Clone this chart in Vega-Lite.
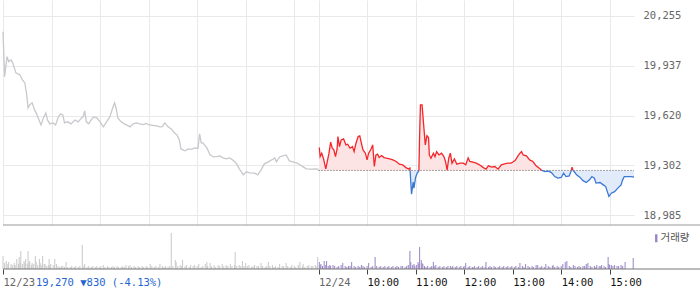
{
  "$schema": "https://vega.github.io/schema/vega-lite/v6.json",
  "padding": 0,
  "background": "white",
  "spacing": 3,
  "config": {
    "view": {"stroke": null},
    "axis": {"labelFont": "DejaVu Sans Mono", "labelFontSize": 10.5}
  },
  "resolve": {
    "scale": {"color": "independent", "stroke": "independent", "fill": "independent"},
    "legend": {"color": "independent"}
  },
  "datasets": {
    "price": [
      {"m":0,"p":20155,"s":0,"d":"prev"},{"m":2,"p":19868,"s":0,"d":"prev"},{"m":5,"p":19996,"s":0,"d":"prev"},{"m":7,"p":19964,"s":0,"d":"prev"},
      {"m":10,"p":19975,"s":0,"d":"prev"},{"m":12,"p":19955,"s":0,"d":"prev"},{"m":14,"p":19924,"s":0,"d":"prev"},{"m":16,"p":19892,"s":0,"d":"prev"},
      {"m":21,"p":19879,"s":0,"d":"prev"},{"m":24,"p":19847,"s":0,"d":"prev"},{"m":27,"p":19828,"s":0,"d":"prev"},{"m":29,"p":19764,"s":0,"d":"prev"},
      {"m":31,"p":19669,"s":0,"d":"prev"},{"m":33,"p":19688,"s":0,"d":"prev"},{"m":36,"p":19701,"s":0,"d":"prev"},{"m":39,"p":19656,"s":0,"d":"prev"},
      {"m":41,"p":19637,"s":0,"d":"prev"},{"m":43,"p":19611,"s":0,"d":"prev"},{"m":47,"p":19560,"s":0,"d":"prev"},{"m":50,"p":19605,"s":0,"d":"prev"},
      {"m":53,"p":19637,"s":0,"d":"prev"},{"m":55,"p":19592,"s":0,"d":"prev"},{"m":58,"p":19567,"s":0,"d":"prev"},{"m":62,"p":19573,"s":0,"d":"prev"},
      {"m":65,"p":19560,"s":0,"d":"prev"},{"m":68,"p":19605,"s":0,"d":"prev"},{"m":71,"p":19631,"s":0,"d":"prev"},{"m":74,"p":19624,"s":0,"d":"prev"},
      {"m":76,"p":19573,"s":0,"d":"prev"},{"m":80,"p":19580,"s":0,"d":"prev"},{"m":84,"p":19567,"s":0,"d":"prev"},{"m":89,"p":19592,"s":0,"d":"prev"},
      {"m":93,"p":19580,"s":0,"d":"prev"},{"m":97,"p":19605,"s":0,"d":"prev"},{"m":99,"p":19611,"s":0,"d":"prev"},{"m":101,"p":19650,"s":0,"d":"prev"},
      {"m":103,"p":19580,"s":0,"d":"prev"},{"m":106,"p":19567,"s":0,"d":"prev"},{"m":109,"p":19592,"s":0,"d":"prev"},{"m":112,"p":19611,"s":0,"d":"prev"},
      {"m":116,"p":19605,"s":0,"d":"prev"},{"m":120,"p":19580,"s":0,"d":"prev"},{"m":124,"p":19548,"s":0,"d":"prev"},{"m":128,"p":19580,"s":0,"d":"prev"},
      {"m":132,"p":19611,"s":0,"d":"prev"},{"m":136,"p":19675,"s":0,"d":"prev"},{"m":138,"p":19701,"s":0,"d":"prev"},{"m":140,"p":19662,"s":0,"d":"prev"},
      {"m":142,"p":19605,"s":0,"d":"prev"},{"m":146,"p":19580,"s":0,"d":"prev"},{"m":150,"p":19567,"s":0,"d":"prev"},{"m":155,"p":19554,"s":0,"d":"prev"},
      {"m":157,"p":19548,"s":0,"d":"prev"},{"m":161,"p":19567,"s":0,"d":"prev"},{"m":165,"p":19573,"s":0,"d":"prev"},{"m":169,"p":19567,"s":0,"d":"prev"},
      {"m":173,"p":19562,"s":0,"d":"prev"},{"m":177,"p":19570,"s":0,"d":"prev"},{"m":181,"p":19560,"s":0,"d":"prev"},{"m":185,"p":19558,"s":0,"d":"prev"},
      {"m":190,"p":19554,"s":0,"d":"prev"},{"m":194,"p":19548,"s":0,"d":"prev"},{"m":197,"p":19550,"s":0,"d":"prev"},{"m":200,"p":19573,"s":0,"d":"prev"},
      {"m":204,"p":19548,"s":0,"d":"prev"},{"m":208,"p":19535,"s":0,"d":"prev"},{"m":212,"p":19509,"s":0,"d":"prev"},{"m":215,"p":19497,"s":0,"d":"prev"},
      {"m":218,"p":19465,"s":0,"d":"prev"},{"m":220,"p":19407,"s":0,"d":"prev"},{"m":225,"p":19395,"s":0,"d":"prev"},{"m":229,"p":19407,"s":0,"d":"prev"},
      {"m":233,"p":19404,"s":0,"d":"prev"},{"m":237,"p":19414,"s":0,"d":"prev"},{"m":241,"p":19410,"s":0,"d":"prev"},{"m":243,"p":19503,"s":0,"d":"prev"},
      {"m":245,"p":19446,"s":0,"d":"prev"},{"m":247,"p":19446,"s":0,"d":"prev"},{"m":249,"p":19433,"s":0,"d":"prev"},{"m":252,"p":19414,"s":0,"d":"prev"},
      {"m":256,"p":19369,"s":0,"d":"prev"},{"m":260,"p":19356,"s":0,"d":"prev"},{"m":264,"p":19358,"s":0,"d":"prev"},{"m":268,"p":19363,"s":0,"d":"prev"},
      {"m":272,"p":19350,"s":0,"d":"prev"},{"m":276,"p":19344,"s":0,"d":"prev"},{"m":280,"p":19350,"s":0,"d":"prev"},{"m":284,"p":19337,"s":0,"d":"prev"},
      {"m":288,"p":19318,"s":0,"d":"prev"},{"m":293,"p":19274,"s":0,"d":"prev"},{"m":297,"p":19242,"s":0,"d":"prev"},{"m":301,"p":19261,"s":0,"d":"prev"},
      {"m":305,"p":19255,"s":0,"d":"prev"},{"m":311,"p":19253,"s":0,"d":"prev"},{"m":315,"p":19242,"s":0,"d":"prev"},{"m":319,"p":19274,"s":0,"d":"prev"},
      {"m":323,"p":19312,"s":0,"d":"prev"},{"m":328,"p":19325,"s":0,"d":"prev"},{"m":332,"p":19337,"s":0,"d":"prev"},{"m":336,"p":19350,"s":0,"d":"prev"},
      {"m":338,"p":19325,"s":0,"d":"prev"},{"m":342,"p":19356,"s":0,"d":"prev"},{"m":346,"p":19363,"s":0,"d":"prev"},{"m":350,"p":19369,"s":0,"d":"prev"},
      {"m":354,"p":19331,"s":0,"d":"prev"},{"m":358,"p":19325,"s":0,"d":"prev"},{"m":363,"p":19318,"s":0,"d":"prev"},{"m":367,"p":19306,"s":0,"d":"prev"},
      {"m":371,"p":19293,"s":0,"d":"prev"},{"m":375,"p":19280,"s":0,"d":"prev"},{"m":381,"p":19278,"s":0,"d":"prev"},{"m":387,"p":19280,"s":0,"d":"prev"},
      {"m":390,"p":19277,"s":0,"d":"prev"},

      {"m":391,"p":19416,"s":1,"d":"up"},{"m":392,"p":19358,"s":1,"d":"up"},{"m":394,"p":19380,"s":1,"d":"up"},{"m":396,"p":19348,"s":1,"d":"up"},
      {"m":399,"p":19280,"s":1,"d":"up"},{"m":400,"p":19306,"s":1,"d":"up"},{"m":403,"p":19380,"s":1,"d":"up"},{"m":405,"p":19450,"s":1,"d":"up"},
      {"m":407,"p":19412,"s":1,"d":"up"},{"m":409,"p":19401,"s":1,"d":"up"},{"m":411,"p":19358,"s":1,"d":"up"},{"m":413,"p":19407,"s":1,"d":"up"},
      {"m":414,"p":19486,"s":1,"d":"up"},{"m":416,"p":19422,"s":1,"d":"up"},{"m":418,"p":19465,"s":1,"d":"up"},{"m":421,"p":19471,"s":1,"d":"up"},
      {"m":424,"p":19433,"s":1,"d":"up"},{"m":426,"p":19437,"s":1,"d":"up"},{"m":429,"p":19412,"s":1,"d":"up"},{"m":432,"p":19422,"s":1,"d":"up"},
      {"m":434,"p":19390,"s":1,"d":"up"},{"m":436,"p":19437,"s":1,"d":"up"},{"m":439,"p":19486,"s":1,"d":"up"},{"m":441,"p":19490,"s":1,"d":"up"},
      {"m":443,"p":19444,"s":1,"d":"up"},{"m":445,"p":19401,"s":1,"d":"up"},{"m":448,"p":19380,"s":1,"d":"up"},{"m":450,"p":19337,"s":1,"d":"up"},
      {"m":452,"p":19380,"s":1,"d":"up"},{"m":455,"p":19407,"s":1,"d":"up"},{"m":457,"p":19433,"s":1,"d":"up"},{"m":459,"p":19295,"s":1,"d":"up"},
      {"m":461,"p":19369,"s":1,"d":"up"},{"m":463,"p":19374,"s":1,"d":"up"},{"m":465,"p":19352,"s":1,"d":"up"},{"m":468,"p":19365,"s":1,"d":"up"},
      {"m":471,"p":19352,"s":1,"d":"up"},{"m":474,"p":19348,"s":1,"d":"up"},{"m":478,"p":19344,"s":1,"d":"up"},{"m":482,"p":19337,"s":1,"d":"up"},
      {"m":486,"p":19327,"s":1,"d":"up"},{"m":490,"p":19310,"s":1,"d":"up"},{"m":494,"p":19306,"s":1,"d":"up"},{"m":498,"p":19288,"s":1,"d":"up"},
      {"m":501,"p":19280,"s":1,"d":"up"},{"m":503,"p":19285,"s":1,"d":"up"},{"m":503.2,"p":19270,"s":1,"d":"up"},

      {"m":503.2,"p":19270,"s":2,"d":"down"},{"m":505,"p":19119,"s":2,"d":"down"},{"m":507,"p":19195,"s":2,"d":"down"},{"m":508,"p":19157,"s":2,"d":"down"},
      {"m":510,"p":19225,"s":2,"d":"down"},{"m":512,"p":19253,"s":2,"d":"down"},{"m":514,"p":19267,"s":2,"d":"down"},{"m":514.1,"p":19270,"s":2,"d":"down"},

      {"m":514.1,"p":19270,"s":3,"d":"up"},{"m":515,"p":19497,"s":3,"d":"up"},{"m":516,"p":19688,"s":3,"d":"up"},{"m":518,"p":19688,"s":3,"d":"up"},
      {"m":520,"p":19560,"s":3,"d":"up"},{"m":522,"p":19433,"s":3,"d":"up"},{"m":524,"p":19492,"s":3,"d":"up"},{"m":526,"p":19480,"s":3,"d":"up"},
      {"m":527,"p":19369,"s":3,"d":"up"},{"m":529,"p":19348,"s":3,"d":"up"},{"m":532,"p":19380,"s":3,"d":"up"},{"m":534,"p":19358,"s":3,"d":"up"},
      {"m":536,"p":19390,"s":3,"d":"up"},{"m":539,"p":19369,"s":3,"d":"up"},{"m":542,"p":19380,"s":3,"d":"up"},{"m":545,"p":19358,"s":3,"d":"up"},
      {"m":547,"p":19327,"s":3,"d":"up"},{"m":549,"p":19272,"s":3,"d":"up"},{"m":551,"p":19348,"s":3,"d":"up"},{"m":553,"p":19380,"s":3,"d":"up"},
      {"m":555,"p":19316,"s":3,"d":"up"},{"m":558,"p":19344,"s":3,"d":"up"},{"m":561,"p":19310,"s":3,"d":"up"},{"m":565,"p":19316,"s":3,"d":"up"},
      {"m":569,"p":19316,"s":3,"d":"up"},{"m":572,"p":19306,"s":3,"d":"up"},{"m":575,"p":19350,"s":3,"d":"up"},{"m":577,"p":19327,"s":3,"d":"up"},
      {"m":581,"p":19323,"s":3,"d":"up"},{"m":585,"p":19316,"s":3,"d":"up"},{"m":589,"p":19306,"s":3,"d":"up"},{"m":593,"p":19291,"s":3,"d":"up"},
      {"m":597,"p":19278,"s":3,"d":"up"},{"m":600,"p":19299,"s":3,"d":"up"},{"m":604,"p":19291,"s":3,"d":"up"},{"m":608,"p":19295,"s":3,"d":"up"},
      {"m":612,"p":19278,"s":3,"d":"up"},{"m":616,"p":19306,"s":3,"d":"up"},{"m":620,"p":19312,"s":3,"d":"up"},{"m":624,"p":19316,"s":3,"d":"up"},
      {"m":628,"p":19316,"s":3,"d":"up"},{"m":633,"p":19333,"s":3,"d":"up"},{"m":636,"p":19358,"s":3,"d":"up"},{"m":639,"p":19380,"s":3,"d":"up"},
      {"m":641,"p":19390,"s":3,"d":"up"},{"m":643,"p":19369,"s":3,"d":"up"},{"m":647,"p":19363,"s":3,"d":"up"},{"m":651,"p":19337,"s":3,"d":"up"},
      {"m":655,"p":19327,"s":3,"d":"up"},{"m":659,"p":19299,"s":3,"d":"up"},{"m":663,"p":19284,"s":3,"d":"up"},{"m":666,"p":19270,"s":3,"d":"up"},

      {"m":666,"p":19270,"s":4,"d":"down"},{"m":670,"p":19263,"s":4,"d":"down"},{"m":674,"p":19266,"s":4,"d":"down"},{"m":678,"p":19256,"s":4,"d":"down"},
      {"m":682,"p":19231,"s":4,"d":"down"},{"m":686,"p":19221,"s":4,"d":"down"},{"m":690,"p":19225,"s":4,"d":"down"},{"m":693,"p":19253,"s":4,"d":"down"},
      {"m":696,"p":19231,"s":4,"d":"down"},{"m":700,"p":19235,"s":4,"d":"down"},{"m":702,"p":19263,"s":4,"d":"down"},{"m":702.5,"p":19270,"s":4,"d":"down"},

      {"m":702.5,"p":19270,"s":5,"d":"up"},{"m":703.5,"p":19291,"s":5,"d":"up"},{"m":704.5,"p":19270,"s":5,"d":"up"},

      {"m":704.5,"p":19270,"s":6,"d":"down"},{"m":706,"p":19263,"s":6,"d":"down"},{"m":709,"p":19242,"s":6,"d":"down"},{"m":713,"p":19227,"s":6,"d":"down"},
      {"m":717,"p":19205,"s":6,"d":"down"},{"m":721,"p":19193,"s":6,"d":"down"},{"m":725,"p":19210,"s":6,"d":"down"},{"m":728,"p":19231,"s":6,"d":"down"},
      {"m":731,"p":19221,"s":6,"d":"down"},{"m":733,"p":19189,"s":6,"d":"down"},{"m":738,"p":19193,"s":6,"d":"down"},{"m":742,"p":19178,"s":6,"d":"down"},
      {"m":745,"p":19167,"s":6,"d":"down"},{"m":747,"p":19135,"s":6,"d":"down"},{"m":749,"p":19104,"s":6,"d":"down"},{"m":752,"p":19125,"s":6,"d":"down"},
      {"m":756,"p":19135,"s":6,"d":"down"},{"m":760,"p":19157,"s":6,"d":"down"},{"m":764,"p":19178,"s":6,"d":"down"},{"m":766,"p":19210,"s":6,"d":"down"},
      {"m":768,"p":19231,"s":6,"d":"down"},{"m":772,"p":19231,"s":6,"d":"down"},{"m":777,"p":19231,"s":6,"d":"down"},{"m":780,"p":19227,"s":6,"d":"down"}
    ],
    "vol1": [
      {"m":0,"v":13},{"m":2,"v":6},{"m":4,"v":8},{"m":6,"v":5},{"m":7,"v":7},{"m":10,"v":5},{"m":12,"v":4},{"m":14,"v":6},{"m":15,"v":4},{"m":17,"v":10},
      {"m":19,"v":5},{"m":20,"v":12},{"m":21,"v":6},{"m":22,"v":18},{"m":24,"v":5},{"m":26,"v":8},{"m":27,"v":6},{"m":28,"v":10},{"m":30,"v":5},{"m":31,"v":18},
      {"m":32,"v":6},{"m":33,"v":8},{"m":35,"v":4},{"m":36,"v":6},{"m":38,"v":5},{"m":40,"v":13},{"m":41,"v":7},{"m":43,"v":4},{"m":45,"v":10},{"m":46,"v":6},
      {"m":48,"v":4},{"m":49,"v":13},{"m":51,"v":5},{"m":52,"v":5},{"m":54,"v":3},{"m":56,"v":4},{"m":57,"v":10},{"m":58,"v":3},{"m":59,"v":5},{"m":62,"v":4},
      {"m":64,"v":10},{"m":66,"v":5},{"m":68,"v":3},{"m":70,"v":2},{"m":72,"v":3},{"m":74,"v":3},{"m":76,"v":2},{"m":78,"v":7},{"m":80,"v":2},{"m":83,"v":2},
      {"m":85,"v":3},{"m":88,"v":2},{"m":90,"v":3},{"m":93,"v":2},{"m":95,"v":3},{"m":98,"v":24},{"m":100,"v":3},{"m":101,"v":5},{"m":104,"v":2},{"m":106,"v":3},
      {"m":109,"v":2},{"m":111,"v":3},{"m":114,"v":2},{"m":116,"v":3},{"m":119,"v":2},{"m":121,"v":3},{"m":124,"v":4},{"m":126,"v":2},{"m":129,"v":3},{"m":131,"v":2},
      {"m":134,"v":2},{"m":136,"v":3},{"m":138,"v":2},{"m":141,"v":3},{"m":143,"v":2},{"m":146,"v":2},{"m":148,"v":3},{"m":150,"v":2},{"m":152,"v":4},{"m":155,"v":3},
      {"m":157,"v":4},{"m":159,"v":2},{"m":162,"v":3},{"m":164,"v":2},{"m":167,"v":3},{"m":169,"v":2},{"m":172,"v":3},{"m":174,"v":2},{"m":177,"v":3},{"m":179,"v":2},
      {"m":182,"v":5},{"m":184,"v":3},{"m":187,"v":2},{"m":189,"v":3},{"m":192,"v":2},{"m":194,"v":5},{"m":197,"v":3},{"m":199,"v":2},{"m":201,"v":3},{"m":204,"v":2},
      {"m":206,"v":3},{"m":208,"v":36},{"m":210,"v":3},{"m":213,"v":9},{"m":214,"v":7},{"m":216,"v":3},{"m":219,"v":4},{"m":221,"v":3},{"m":222,"v":9},{"m":225,"v":3},
      {"m":227,"v":4},{"m":230,"v":2},{"m":232,"v":4},{"m":235,"v":3},{"m":237,"v":4},{"m":240,"v":3},{"m":242,"v":5},{"m":245,"v":2},{"m":247,"v":3},{"m":250,"v":5},
      {"m":252,"v":7},{"m":253,"v":3},{"m":256,"v":6},{"m":258,"v":3},{"m":261,"v":4},{"m":263,"v":2},{"m":266,"v":4},{"m":268,"v":3},{"m":271,"v":5},{"m":273,"v":3},
      {"m":276,"v":4},{"m":278,"v":3},{"m":281,"v":5},{"m":283,"v":3},{"m":286,"v":4},{"m":287,"v":17},{"m":289,"v":3},{"m":292,"v":4},{"m":294,"v":3},{"m":296,"v":8},
      {"m":298,"v":3},{"m":300,"v":6},{"m":302,"v":3},{"m":304,"v":4},{"m":307,"v":2},{"m":309,"v":3},{"m":311,"v":4},{"m":314,"v":3},{"m":316,"v":3},{"m":319,"v":6},
      {"m":321,"v":3},{"m":324,"v":2},{"m":326,"v":3},{"m":328,"v":7},{"m":330,"v":3},{"m":333,"v":4},{"m":335,"v":2},{"m":337,"v":3},{"m":340,"v":2},{"m":342,"v":5},
      {"m":345,"v":3},{"m":347,"v":3},{"m":350,"v":6},{"m":352,"v":3},{"m":355,"v":2},{"m":357,"v":4},{"m":360,"v":3},{"m":362,"v":2},{"m":365,"v":4},{"m":367,"v":7},
      {"m":370,"v":3},{"m":371,"v":5},{"m":373,"v":2},{"m":376,"v":3},{"m":378,"v":4},{"m":381,"v":3},{"m":383,"v":3},{"m":386,"v":4},{"m":388,"v":3},{"m":389,"v":12}
    ],
    "vol2": [
      {"m":391,"v":7},{"m":392,"v":4},{"m":393,"v":5},{"m":395,"v":3},{"m":397,"v":8},{"m":399,"v":4},{"m":400,"v":8},{"m":402,"v":3},{"m":404,"v":4},{"m":405,"v":3},
      {"m":408,"v":4},{"m":410,"v":3},{"m":413,"v":2},{"m":415,"v":3},{"m":418,"v":4},{"m":420,"v":6},{"m":423,"v":3},{"m":425,"v":2},{"m":427,"v":3},{"m":429,"v":3},
      {"m":431,"v":7},{"m":434,"v":3},{"m":436,"v":2},{"m":439,"v":3},{"m":441,"v":2},{"m":443,"v":4},{"m":445,"v":3},{"m":447,"v":2},{"m":450,"v":3},{"m":452,"v":6},
      {"m":455,"v":2},{"m":457,"v":3},{"m":460,"v":12},{"m":462,"v":3},{"m":465,"v":2},{"m":467,"v":3},{"m":470,"v":2},{"m":472,"v":3},{"m":475,"v":2},{"m":477,"v":3},
      {"m":480,"v":2},{"m":482,"v":3},{"m":485,"v":2},{"m":487,"v":3},{"m":489,"v":2},{"m":492,"v":3},{"m":494,"v":3},{"m":497,"v":2},{"m":499,"v":3},{"m":501,"v":4},
      {"m":503,"v":18},{"m":504,"v":7},{"m":506,"v":4},{"m":508,"v":5},{"m":509,"v":3},{"m":511,"v":4},{"m":513,"v":7},{"m":514,"v":5},{"m":515,"v":22},{"m":517,"v":9},
      {"m":518,"v":6},{"m":519,"v":5},{"m":521,"v":3},{"m":523,"v":2},{"m":525,"v":3},{"m":528,"v":2},{"m":530,"v":3},{"m":532,"v":7},{"m":533,"v":3},{"m":535,"v":4},
      {"m":538,"v":2},{"m":540,"v":3},{"m":543,"v":2},{"m":545,"v":3},{"m":548,"v":2},{"m":550,"v":3},{"m":553,"v":3},{"m":555,"v":2},{"m":556,"v":3},{"m":559,"v":2},
      {"m":561,"v":3},{"m":564,"v":2},{"m":566,"v":3},{"m":569,"v":2},{"m":570,"v":3},{"m":572,"v":6},{"m":575,"v":2},{"m":577,"v":3},{"m":580,"v":2},{"m":581,"v":2},
      {"m":583,"v":3},{"m":586,"v":2},{"m":588,"v":3},{"m":591,"v":2},{"m":593,"v":3},{"m":596,"v":2},{"m":597,"v":7},{"m":600,"v":2},{"m":602,"v":3},{"m":604,"v":2},
      {"m":607,"v":3},{"m":609,"v":2},{"m":612,"v":2},{"m":614,"v":3},{"m":617,"v":2},{"m":619,"v":3},{"m":622,"v":2},{"m":624,"v":3},{"m":627,"v":2},{"m":629,"v":3},
      {"m":632,"v":2},{"m":634,"v":3},{"m":637,"v":2},{"m":639,"v":6},{"m":642,"v":3},{"m":644,"v":2},{"m":646,"v":5},{"m":649,"v":3},{"m":651,"v":2},{"m":654,"v":3},
      {"m":656,"v":2},{"m":659,"v":4},{"m":661,"v":4},{"m":664,"v":2},{"m":666,"v":3},{"m":669,"v":2},{"m":671,"v":5},{"m":674,"v":3},{"m":676,"v":2},{"m":679,"v":3},
      {"m":680,"v":4},{"m":682,"v":2},{"m":685,"v":3},{"m":687,"v":2},{"m":690,"v":3},{"m":692,"v":5},{"m":695,"v":7},{"m":697,"v":8},{"m":700,"v":3},{"m":702,"v":2},
      {"m":705,"v":4},{"m":707,"v":3},{"m":710,"v":2},{"m":712,"v":3},{"m":714,"v":2},{"m":717,"v":3},{"m":719,"v":3},{"m":721,"v":5},{"m":723,"v":6},{"m":726,"v":3},
      {"m":728,"v":2},{"m":731,"v":3},{"m":733,"v":2},{"m":734,"v":4},{"m":737,"v":3},{"m":739,"v":3},{"m":740,"v":4},{"m":743,"v":3},{"m":745,"v":2},{"m":748,"v":12},
      {"m":749,"v":5},{"m":750,"v":4},{"m":752,"v":4},{"m":754,"v":3},{"m":756,"v":4},{"m":759,"v":3},{"m":761,"v":3},{"m":764,"v":4},{"m":766,"v":3},{"m":769,"v":7},
      {"m":779,"v":11}
    ]
  },
  "vconcat": [
    {
      "width": 631,
      "height": 225,
      "layer": [
        {
          "data": {"name": "price"},
          "transform": [{"filter": "datum.d != 'prev'"}],
          "mark": {"type": "area", "opacity": 1},
          "encoding": {
            "x": {
              "field": "m", "type": "quantitative",
              "scale": {"domain": [0, 780], "nice": false, "zero": false},
              "axis": {
                "values": [0, 60, 120, 180, 240, 300, 360, 390, 450, 510, 570, 630, 690, 750],
                "grid": true, "gridColor": "#e9e9e9", "labels": false, "ticks": false, "domain": false, "title": null
              }
            },
            "y": {
              "field": "p", "type": "quantitative",
              "scale": {"domain": [18922, 20357], "nice": false, "zero": false},
              "axis": {
                "orient": "right", "values": [18985, 19302, 19620, 19937, 20255], "format": ",d",
                "grid": true, "gridColor": "#e9e9e9", "domain": false, "ticks": false,
                "labelPadding": 9, "labelColor": "#666666", "title": null
              }
            },
            "y2": {"datum": 19270},
            "fill": {"field": "d", "type": "nominal", "scale": {"domain": ["up", "down"], "range": ["#fde4e4", "#e2ebf9"]}, "legend": null},
            "detail": {"field": "s", "type": "nominal"}
          }
        },
        {
          "data": {"values": [{"start": 390, "end": 780, "base": 19270}]},
          "mark": {"type": "rule", "strokeDash": [1, 2], "color": "#555555"},
          "encoding": {
            "x": {"field": "start", "type": "quantitative"},
            "x2": {"field": "end"},
            "y": {"field": "base", "type": "quantitative"}
          }
        },
        {
          "data": {"name": "price"},
          "mark": {"type": "line", "strokeWidth": 1.3},
          "encoding": {
            "x": {"field": "m", "type": "quantitative"},
            "y": {"field": "p", "type": "quantitative"},
            "stroke": {"field": "d", "type": "nominal", "scale": {"domain": ["prev", "up", "down"], "range": ["#c8c8cd", "#f3262c", "#3a78d6"]}, "legend": null},
            "detail": {"field": "s", "type": "nominal"},
            "order": {"field": "m", "type": "quantitative"}
          }
        },
        {
          "data": {"values": [{}]},
          "mark": {"type": "rule", "color": "#999999"},
          "encoding": {
            "x": {"datum": 0},
            "x2": {"datum": 866},
            "y": {"datum": 18922}
          }
        }
      ]
    },
    {
      "width": 631,
      "height": 40,
      "layer": [
        {
          "data": {"name": "vol1"},
          "mark": {"type": "rule", "color": "#c8c8c8"},
          "encoding": {
            "x": {
              "field": "m", "type": "quantitative",
              "scale": {"domain": [0, 780], "nice": false, "zero": false},
              "axis": {
                "values": [0, 390, 450, 510, 570, 630, 690, 750],
                "labelExpr": "datum.value == 0 ? '12/23' : datum.value == 390 ? '12/24' : (9 + (datum.value - 390) / 60) + ':00'",
                "grid": false, "domain": false, "ticks": true, "tickSize": 5, "tickColor": "#444444",
                "labelAlign": "left", "labelPadding": 3, "labelFlush": false, "labelOverlap": false,
                "labelColor": {"condition": {"test": "datum.value == 0 || datum.value == 390", "value": "#666666"}, "value": "#111111"},
                "encode": {"labels": {"update": {"dx": {"signal": "datum.value == 0 || datum.value == 390 ? 0 : -3"}}}},
                "title": null
              }
            },
            "y": {"field": "v", "type": "quantitative", "scale": {"domain": [0, 40], "nice": false}, "axis": null},
            "y2": {"datum": 0}
          }
        },
        {
          "data": {"name": "vol2"},
          "mark": {"type": "rule"},
          "encoding": {
            "x": {"field": "m", "type": "quantitative"},
            "y": {"field": "v", "type": "quantitative"},
            "y2": {"datum": 0},
            "color": {
              "datum": "거래량", "type": "nominal",
              "scale": {"range": ["#9985c6"]},
              "legend": {
                "orient": "right", "offset": 13, "title": null, "padding": 4,
                "symbolType": "M-0.3,-1H0.3V1H-0.3Z", "symbolSize": 64,
                "symbolFillColor": "#9985c6", "symbolStrokeColor": "#9985c6", "symbolStrokeWidth": 0,
                "labelFont": "Noto Sans CJK KR", "labelFontSize": 10.5, "labelColor": "#555555", "labelOffset": -1
              }
            }
          }
        },
        {
          "data": {"values": [{}]},
          "mark": {"type": "rule", "color": "#777777"},
          "encoding": {
            "x": {"datum": 0},
            "x2": {"datum": 866},
            "y": {"datum": 0}
          }
        },
        {
          "data": {"values": [{"label": "19,270 ▼830 (-4.13%)"}]},
          "mark": {"type": "text", "align": "left", "baseline": "middle", "dx": 33, "dy": 14, "color": "#1f66d1", "font": "DejaVu Sans Mono", "fontSize": 10.5},
          "encoding": {
            "x": {"datum": 0},
            "y": {"datum": 0},
            "text": {"field": "label", "type": "nominal"}
          }
        }
      ]
    }
  ]
}
